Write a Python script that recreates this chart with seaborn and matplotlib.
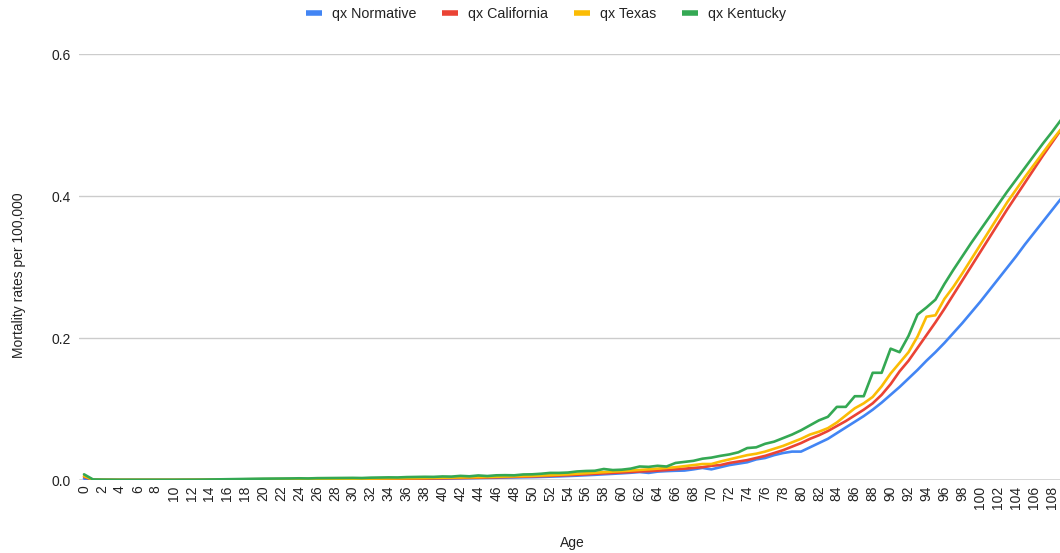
import matplotlib
matplotlib.use("Agg")
import matplotlib.pyplot as plt
import seaborn as sns
import pandas as pd
from matplotlib.lines import Line2D

# Single-year ages shown on the category axis
ages = list(range(0, 110))

qx_normative = [
    0.0020,
    0.0002, 0.0002, 0.0001, 0.0001, 0.0001, 0.0001, 0.0001, 0.0001, 0.0001,
    0.0001, 0.0001, 0.0002, 0.0002, 0.0003, 0.0004, 0.0005, 0.0006, 0.0007, 0.0008,
    0.0008, 0.0009, 0.0009, 0.0010, 0.0010, 0.0010, 0.0010, 0.0011, 0.0011, 0.0011,
    0.0012, 0.0012, 0.0013, 0.0013, 0.0014, 0.0015, 0.0016, 0.0017, 0.0018, 0.0019,
    0.0020, 0.0022, 0.0024, 0.0026, 0.0028, 0.0030, 0.0032, 0.0034, 0.0036, 0.0038,
    0.0040, 0.0043, 0.0047, 0.0051, 0.0056, 0.0061, 0.0067, 0.0073, 0.0080, 0.0087,
    0.0094, 0.0102, 0.0112, 0.0100, 0.0118, 0.0125, 0.0130, 0.0133, 0.0150, 0.0170,
    0.0150, 0.0180, 0.0210, 0.0230, 0.0250, 0.0290, 0.0310, 0.0350, 0.0380, 0.0400,
    0.0400, 0.0460, 0.0520, 0.0580, 0.0660, 0.0740, 0.0820, 0.0900, 0.0990, 0.1090,
    0.1200, 0.1310, 0.1430, 0.1550, 0.1680, 0.1800, 0.1930, 0.2070, 0.2210, 0.2360,
    0.2510, 0.2670, 0.2830, 0.2990, 0.3150, 0.3320, 0.3480, 0.3640, 0.3800, 0.3960,
]

qx_california = [
    0.0045,
    0.0003, 0.0002, 0.0002, 0.0001, 0.0001, 0.0001, 0.0001, 0.0001, 0.0001,
    0.0001, 0.0001, 0.0002, 0.0002, 0.0003, 0.0004, 0.0005, 0.0006, 0.0007, 0.0008,
    0.0009, 0.0010, 0.0010, 0.0011, 0.0011, 0.0011, 0.0012, 0.0012, 0.0012, 0.0013,
    0.0013, 0.0014, 0.0014, 0.0015, 0.0016, 0.0017, 0.0018, 0.0019, 0.0020, 0.0022,
    0.0024, 0.0026, 0.0028, 0.0030, 0.0032, 0.0035, 0.0038, 0.0041, 0.0044, 0.0047,
    0.0050, 0.0054, 0.0058, 0.0063, 0.0068, 0.0074, 0.0080, 0.0087, 0.0094, 0.0100,
    0.0106, 0.0113, 0.0120, 0.0125, 0.0132, 0.0140, 0.0150, 0.0160, 0.0170, 0.0180,
    0.0200, 0.0210, 0.0240, 0.0260, 0.0280, 0.0310, 0.0340, 0.0380, 0.0420, 0.0470,
    0.0520, 0.0580, 0.0630, 0.0690, 0.0760, 0.0830, 0.0910, 0.0990, 0.1080, 0.1200,
    0.1350, 0.1530, 0.1680, 0.1860, 0.2040, 0.2220, 0.2410, 0.2610, 0.2810, 0.3010,
    0.3210, 0.3410, 0.3610, 0.3810, 0.4000, 0.4190, 0.4380, 0.4570, 0.4750, 0.4930,
]

qx_texas = [
    0.0055,
    0.0004, 0.0003, 0.0002, 0.0002, 0.0002, 0.0002, 0.0002, 0.0002, 0.0002,
    0.0002, 0.0002, 0.0003, 0.0003, 0.0004, 0.0005, 0.0007, 0.0008, 0.0010, 0.0011,
    0.0012, 0.0013, 0.0014, 0.0014, 0.0015, 0.0015, 0.0016, 0.0016, 0.0017, 0.0017,
    0.0018, 0.0019, 0.0020, 0.0021, 0.0022, 0.0023, 0.0025, 0.0026, 0.0028, 0.0030,
    0.0032, 0.0034, 0.0036, 0.0038, 0.0040, 0.0043, 0.0046, 0.0049, 0.0052, 0.0055,
    0.0058, 0.0063, 0.0068, 0.0074, 0.0080, 0.0088, 0.0095, 0.0103, 0.0110, 0.0118,
    0.0125, 0.0133, 0.0142, 0.0150, 0.0160, 0.0170, 0.0180, 0.0195, 0.0210, 0.0225,
    0.0225, 0.0260, 0.0290, 0.0320, 0.0350, 0.0370, 0.0400, 0.0440, 0.0480, 0.0530,
    0.0580, 0.0640, 0.0680, 0.0730, 0.0810, 0.0910, 0.1010, 0.1080, 0.1170, 0.1320,
    0.1500, 0.1650, 0.1800, 0.2020, 0.2300, 0.2320, 0.2550, 0.2720, 0.2910, 0.3110,
    0.3310, 0.3510, 0.3710, 0.3910, 0.4090, 0.4270, 0.4440, 0.4610, 0.4780, 0.4940,
]

qx_kentucky = [
    0.0080,
    0.0008, 0.0005, 0.0004, 0.0003, 0.0003, 0.0003, 0.0003, 0.0003, 0.0003,
    0.0003, 0.0004, 0.0004, 0.0005, 0.0007, 0.0009, 0.0011, 0.0013, 0.0015, 0.0017,
    0.0019, 0.0020, 0.0021, 0.0022, 0.0024, 0.0022, 0.0026, 0.0027, 0.0028, 0.0029,
    0.0030, 0.0028, 0.0033, 0.0035, 0.0037, 0.0036, 0.0041, 0.0043, 0.0045, 0.0044,
    0.0050, 0.0048, 0.0058, 0.0052, 0.0064, 0.0056, 0.0066, 0.0068, 0.0066, 0.0078,
    0.0080, 0.0088, 0.0100, 0.0100, 0.0105, 0.0120, 0.0127, 0.0130, 0.0155, 0.0140,
    0.0145, 0.0160, 0.0190, 0.0185, 0.0200, 0.0190, 0.0240, 0.0255, 0.0270, 0.0300,
    0.0315, 0.0340, 0.0360, 0.0390, 0.0450, 0.0460, 0.0510, 0.0540, 0.0590, 0.0640,
    0.0700, 0.0770, 0.0840, 0.0890, 0.1030, 0.1030, 0.1180, 0.1180, 0.1510, 0.1510,
    0.1850, 0.1800, 0.2030, 0.2330, 0.2430, 0.2540, 0.2760, 0.2960, 0.3150, 0.3340,
    0.3520, 0.3700, 0.3880, 0.4060, 0.4230, 0.4400, 0.4570, 0.4740, 0.4900, 0.5070,
]

series_names = ["qx Normative", "qx California", "qx Texas", "qx Kentucky"]
series_colors = ["#4285F4", "#EA4335", "#FBBC04", "#34A853"]
x_ticks = list(range(0, 109, 2))
y_ticks = [0.0, 0.2, 0.4, 0.6]

df = pd.DataFrame({
    "Age": ages * 4,
    "qx": qx_normative + qx_california + qx_texas + qx_kentucky,
    "series": sum([[n] * len(ages) for n in series_names], []),
})

sns.set_style("white")
plt.rcParams["font.family"] = ["Liberation Sans", "DejaVu Sans"]

fig = plt.figure(figsize=(10.6, 5.53), dpi=100)
ax = fig.add_axes([79 / 1060, 73 / 553, 981 / 1060, 426 / 553])

sns.lineplot(data=df, x="Age", y="qx", hue="series", hue_order=series_names,
             palette=series_colors, linewidth=1.9, ax=ax, legend=False,
             solid_joinstyle="round", solid_capstyle="round")

ax.set_xlim(-0.56, 108.9)
ax.set_ylim(0, 0.6)
ax.set_yticks(y_ticks)
ax.set_yticklabels([f"{v:.1f}" for v in y_ticks])
ax.set_xticks(x_ticks)
ax.set_xticklabels([str(t) for t in x_ticks], rotation=90)
ax.tick_params(axis="both", length=0, labelsize=10, labelcolor="#222222")
ax.tick_params(axis="x", pad=4)
ax.tick_params(axis="y", pad=6)

for v in y_ticks[1:]:
    ax.axhline(v, color="#cccccc", linewidth=1.0, zorder=0)
ax.axhline(0, color="#333333", linewidth=1.0, zorder=0.5)
for s in ax.spines.values():
    s.set_visible(False)
ax.grid(False)

ax.set_xlabel("Age", fontsize=10, color="#222222", va="center")
ax.set_ylabel("Mortality rates per 100,000", fontsize=10, color="#222222", va="center")
ax.xaxis.set_label_coords(0.503, -0.148)
ax.yaxis.set_label_coords(-0.061, 0.48)

handles = [Line2D([0], [0], color=c, linewidth=4, solid_capstyle="butt")
           for c in series_colors]
fig.legend(handles, series_names, loc="center", bbox_to_anchor=(0.515, 0.975),
           ncol=4, frameon=False, fontsize=10.3, handlelength=1.1,
           handletextpad=0.72, columnspacing=1.8, labelcolor="#222222")

fig.savefig("out.png", dpi=100)
